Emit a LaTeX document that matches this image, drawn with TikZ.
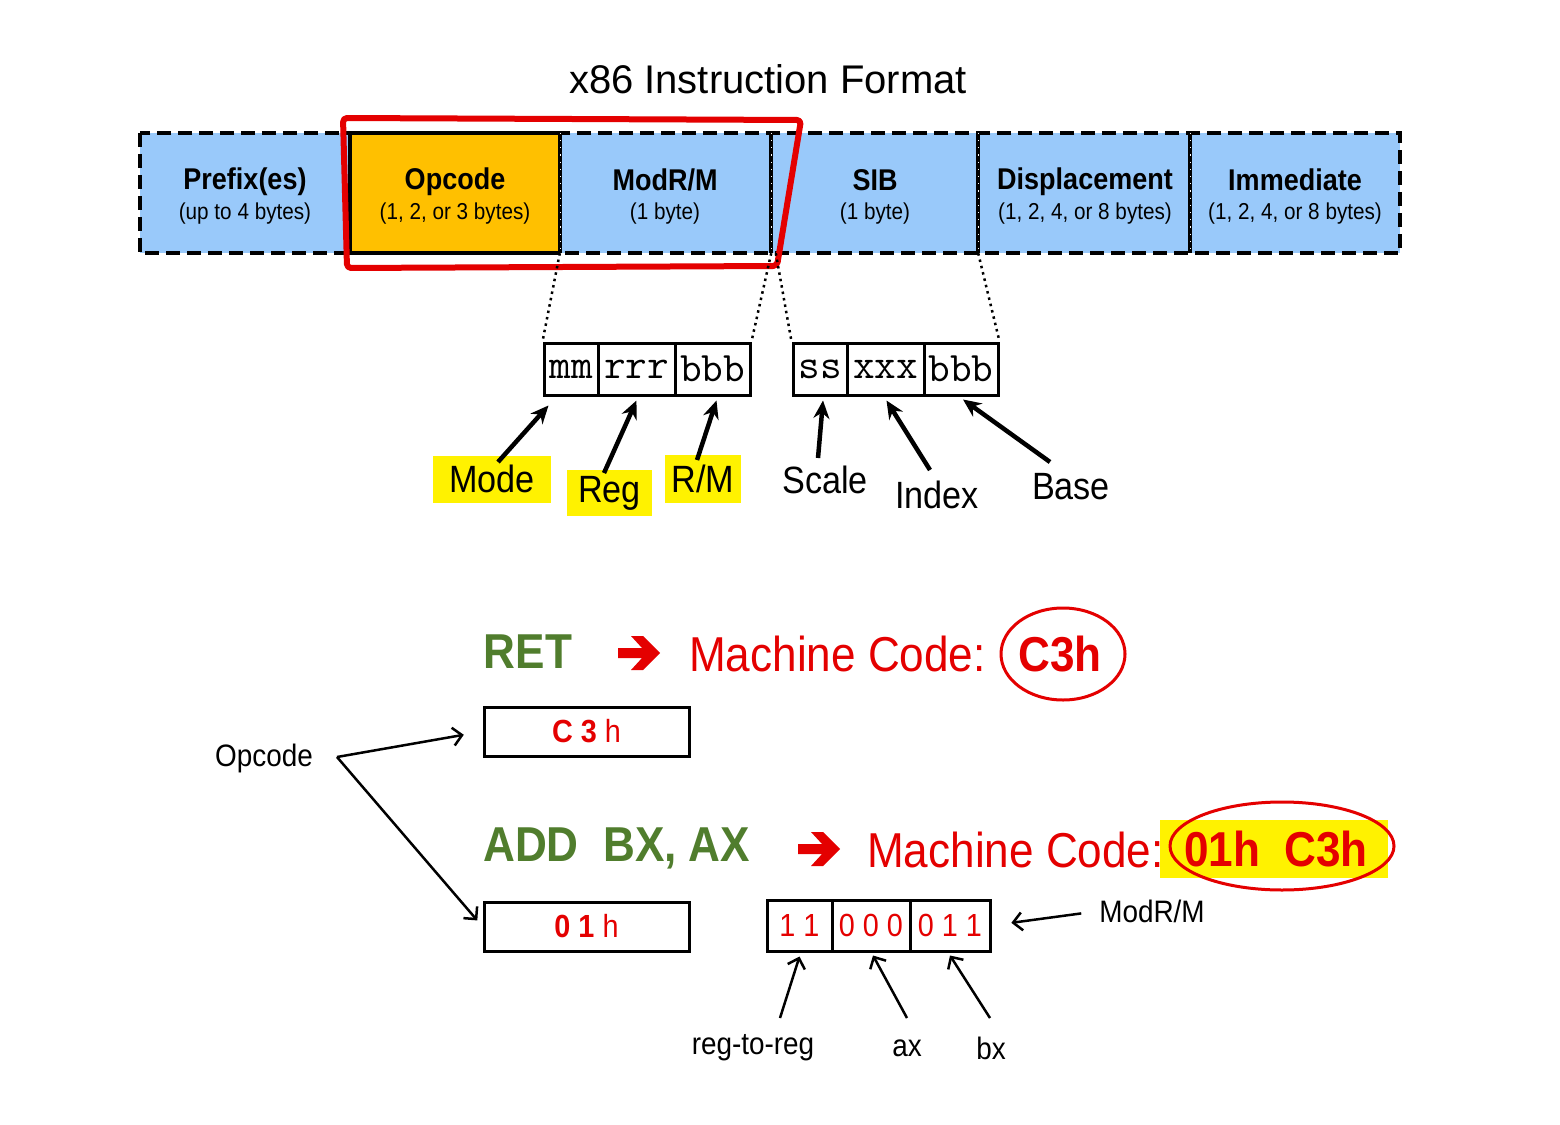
\documentclass[tikz,border=0pt]{standalone}
\usepackage{fontspec}
\setmainfont{Liberation Sans}
\newfontfamily\nar[FakeStretch=0.9]{Liberation Sans}
\usetikzlibrary{arrows.meta,shapes.geometric}
\definecolor{cellblue}{RGB}{153,201,250}
\definecolor{opcorange}{RGB}{255,192,0}
\definecolor{asmgreen}{RGB}{80,125,45}
\definecolor{codered}{RGB}{228,0,0}
\newcommand\fsz[1]{\fontsize{#1}{#1}\selectfont}
\newcommand\redarr[1]{%
  \fill[codered] ([shift={(-21,-5)}]#1) -- ([shift={(3,-5)}]#1) -- ([shift={(-8,-17)}]#1)
    -- ([shift={(4,-17)}]#1) -- ([shift={(21,0)}]#1) -- ([shift={(4,17)}]#1)
    -- ([shift={(-8,17)}]#1) -- ([shift={(3,5)}]#1) -- ([shift={(-21,5)}]#1) -- cycle;}
\tikzset{
 cell/.style={fill=cellblue, minimum width=210pt, minimum height=120pt, inner sep=0pt, draw=none},
 ttl/.style={font=\nar\bfseries\fsz{30}, inner sep=0pt},
 subt/.style={font=\nar\fsz{23}, inner sep=0pt},
 bitcell/.style={draw, line width=3pt, minimum height=52pt, inner sep=0pt, font=\ttfamily\fsz{42}},
 lab/.style={font=\nar\fsz{38}, inner sep=0pt},
 hl/.style={lab, fill=yellow, inner sep=0pt},
 bigarrow/.style={line width=4.5pt, -{Stealth[length=18pt,width=16pt]}},
 thinarrow/.style={line width=2.5pt, -{Straight Barb[length=9pt,width=18pt]}},
 dots/.style={line width=2.5pt, dash pattern=on 2.5pt off 4pt},
 codebox/.style={draw, line width=3pt, minimum width=205pt, minimum height=49pt, inner sep=0pt, font=\nar\fsz{32}, text=codered},
 bitbox/.style={draw, line width=3pt, minimum height=51pt, inner sep=0pt, font=\nar\fsz{32}, text=codered},
 big/.style={font=\nar\bfseries\fsz{49}, inner sep=0pt},
 bigreg/.style={font=\nar\fsz{49}, inner sep=0pt, text=codered},
 small/.style={font=\nar\fsz{31}, inner sep=0pt},
 divider/.style={line width=3.5pt},
 divdots/.style={white, line width=1.2pt, dash pattern=on 1.2pt off 6pt},
}
\begin{document}
\begin{tikzpicture}[x=1pt,y=-1pt]
\useasboundingbox[fill=white] (0,0) rectangle (1560,1124);

% title
\node[font=\fsz{40}, inner sep=0pt] (title) at (768,79) {x86 Instruction Format};

% top bar cells
\node[cell] (pre) at (245,193) {};
\node[cell, fill=opcorange] (opc) at (455,193) {};
\node[cell, minimum width=211pt] (modrm) at (665.5,193) {};
\node[cell, minimum width=207pt] (sib) at (874.5,193) {};
\node[cell, minimum width=212pt] (disp) at (1084,193) {};
\node[cell] (imm) at (1295,193) {};

% outer dashed border
\draw[line width=4pt, dash pattern=on 14pt off 7pt] (pre.north west) rectangle (imm.south east);
% opcode box solid border
\draw[line width=4pt] (opc.south east) -- (opc.south west) -- (opc.north west) -- (opc.north east);
% dividers
\foreach \c in {opc,modrm,sib,disp}{
  \draw[divider] (\c.north east) -- (\c.south east);
  \draw[divdots] (\c.north east) -- (\c.south east);
}

% cell texts
\node[ttl] (preT) at (245,182) {Prefix(es)};
\node[subt] (preS) at (245,214) {(up to 4 bytes)};
\node[ttl] (opcT) at (455,182) {Opcode};
\node[subt] (opcS) at (455,214) {(1, 2, or 3 bytes)};
\node[ttl] (modT) at (665,180) {ModR/M};
\node[subt] (modS) at (665,214) {(1 byte)};
\node[ttl] (sibT) at (875,180) {SIB};
\node[subt] (sibS) at (875,214) {(1 byte)};
\node[ttl] (dispT) at (1085,182) {Displacement};
\node[subt] (dispS) at (1085,214) {(1, 2, 4, or 8 bytes)};
\node[ttl] (immT) at (1295,180) {Immediate};
\node[subt] (immS) at (1295,214) {(1, 2, 4, or 8 bytes)};

% red hand-drawn frame
\draw[codered, line width=6pt, line join=round, rounded corners=4pt]
  (343,118) -- (801,120) -- (777,266) -- (347,268) -- cycle;

% ModR/M bit fields
\node[bitcell, minimum width=54pt] (m1) at (571,369) {mm};
\node[bitcell, minimum width=77pt] (m2) at (636.5,369) {rrr};
\node[bitcell, minimum width=75pt] (m3) at (712.5,369) {bbb};
% SIB bit fields
\node[bitcell, minimum width=54pt] (s1) at (820,369) {ss};
\node[bitcell, minimum width=77pt] (s2) at (885.5,369) {xxx};
\node[bitcell, minimum width=74pt] (s3) at (961,369) {bbb};

% dotted expansion lines
\draw[dots] (modrm.south west) -- (m1.north west);
\draw[dots] (modrm.south east) -- (m3.north east);
\draw[dots] ([xshift=5pt]sib.south west) -- (s1.north west);
\draw[dots] (sib.south east) -- (s3.north east);

% field labels
\node[hl, minimum width=118pt, minimum height=47pt] (mode) at (492,479) {Mode};
\node[hl, minimum width=85pt, minimum height=46pt] (reg) at (609.5,493) {Reg};
\node[hl, minimum width=76pt, minimum height=48pt] (rm) at (703,479) {R/M};
\node[lab] (scale) at (825,480) {Scale};
\node[lab] (index) at (937,495) {Index};
\node[lab] (base) at (1071,487) {Base};

\coordinate (modeT) at (498,462);
\coordinate (regT) at (604,473);
\coordinate (rmT) at (697,460);
\coordinate (scaleT) at (818,458);
\coordinate (indexT) at (930,470);
\coordinate (baseT) at (1050,462);
\draw[bigarrow] (modeT) -- ([xshift=6pt,yshift=-9pt]m1.south west);
\draw[bigarrow] (regT) -- ([yshift=-4pt]m2.south);
\draw[bigarrow] (rmT) -- ([xshift=4pt,yshift=-4pt]m3.south);
\draw[bigarrow] (scaleT) -- ([xshift=3pt,yshift=-4pt]s1.south);
\draw[bigarrow] (indexT) -- ([xshift=1pt,yshift=-4pt]s2.south);
\draw[bigarrow] (baseT) -- ([xshift=2pt,yshift=-3pt]s3.south);

% RET line
\node[big, text=asmgreen] (ret) at (528,652) {RET};
\coordinate (arr1) at (639,653);
\redarr{arr1}
\node[bigreg, anchor=west] (mc1) at (689,654) {Machine Code:};
\node[ellipse, draw=codered, line width=3pt, minimum width=124pt, minimum height=92pt] (c3e) at (1063,654) {};
\node[big, text=codered] (c3) at (1060,654) {C3h};

\node[codebox] (bC3) at (586.5,731.5) {\textbf{C 3} h};

% Opcode label
\node[small] (opl) at (264,758) {Opcode};
\coordinate (fork) at (337,757);

% ADD line
\node[big, text=asmgreen, anchor=west] (add) at (483,848) {ADD\ \ BX, AX};
\coordinate (arr2) at (819,849);
\redarr{arr2}
\node[fill=yellow, minimum width=228pt, minimum height=58pt, inner sep=0pt] (hl2) at (1274,849) {};
\node[ellipse, draw=codered, line width=3pt, minimum width=224pt, minimum height=88pt] (c2e) at (1282,846) {};
\node[bigreg, anchor=west] (mc2) at (867,850) {Machine Code:};
\node[big, text=codered] (c2) at (1276,849) {01h\ \ C3h};

\node[codebox] (b01) at (586.5,926.5) {\textbf{0 1} h};

\draw[thinarrow, shorten >=19pt] (fork) -- (bC3.west);
\draw[thinarrow, shorten >=8pt] (fork) -- (b01.west);

% ModR/M bits
\node[bitbox, minimum width=65pt] (b1) at (799.5,925.5) {1 1};
\node[bitbox, minimum width=78pt] (b2) at (871,925.5) {0 0 0};
\node[bitbox, minimum width=80pt] (b3) at (950,925.5) {0 1 1};

\node[small] (mrl) at (1152,911) {ModR/M};
\draw[thinarrow, shorten <=18pt, shorten >=20pt] (mrl.west) -- (b3.east);

\node[small] (rr) at (753,1048) {reg-to-reg};
\node[small] (ax) at (907,1048) {ax};
\node[small] (bx) at (991,1048) {bx};
\coordinate (rrT) at (780,1018);
\coordinate (axT) at (907,1018);
\coordinate (bxT) at (990,1018);
\draw[thinarrow] (rrT) -- ([yshift=-4pt]b1.south);
\draw[thinarrow] (axT) -- ([xshift=2pt,yshift=-3pt]b2.south);
\draw[thinarrow] (bxT) -- ([yshift=-3pt]b3.south);
\end{tikzpicture}
\end{document}
